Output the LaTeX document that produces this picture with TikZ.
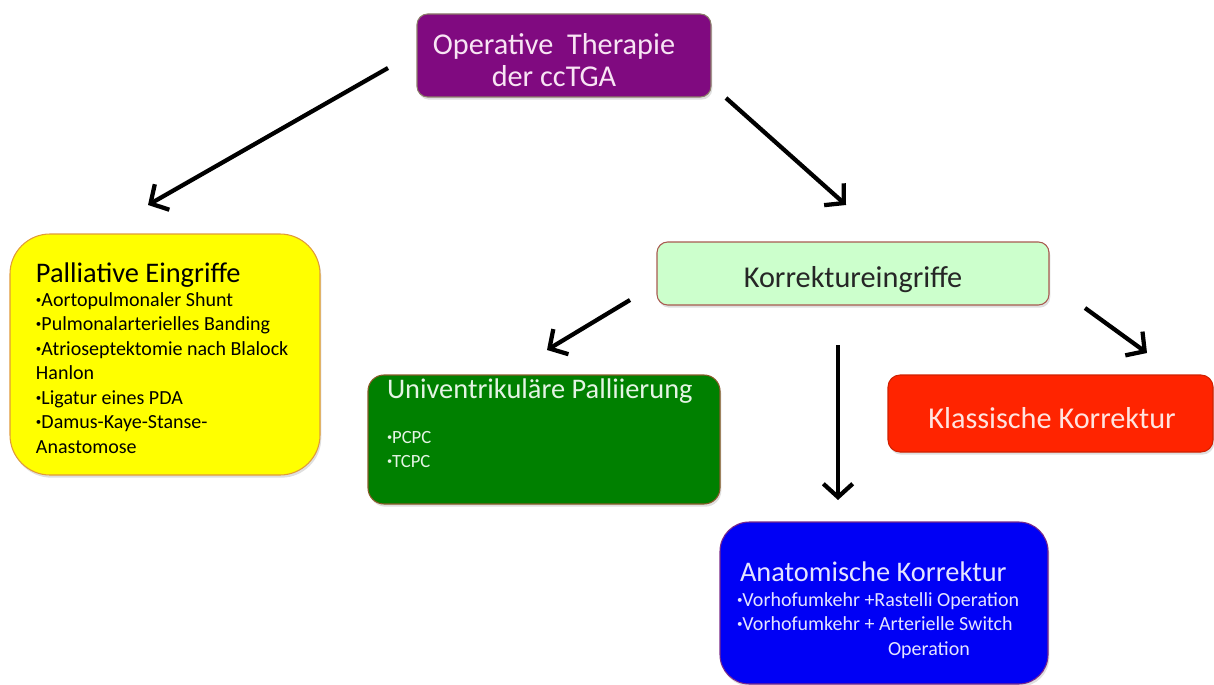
\documentclass[tikz,border=0pt]{standalone}
\usepackage{fontspec}
\usepackage{graphicx}
\setmainfont{Carlito}
\usetikzlibrary{arrows.meta,shadows}
\definecolor{cpurple}{HTML}{800A80}
\definecolor{cpurpleline}{HTML}{8C7C6A}
\definecolor{cyellow}{HTML}{FFFF00}
\definecolor{cyellowline}{HTML}{E09A3A}
\definecolor{clgreen}{HTML}{CCFFCC}
\definecolor{clgreenline}{HTML}{A85A50}
\definecolor{cgreen}{HTML}{008000}
\definecolor{cgreenline}{HTML}{8A5A2A}
\definecolor{cred}{HTML}{FF2400}
\definecolor{credline}{HTML}{D02000}
\definecolor{cblue}{HTML}{0000F5}
\definecolor{cblueline}{HTML}{7A2A8A}
\definecolor{ptext}{HTML}{F8E4F4}
\definecolor{gtext}{HTML}{E4F4E4}
\definecolor{btext}{HTML}{E4E4FF}
\definecolor{rtext}{HTML}{FFE4E0}
\newcommand{\bul}{\raisebox{0.3ex}{\scalebox{0.55}{•}}}
\begin{document}
\begin{tikzpicture}[x=0.75pt,y=-0.75pt,
  boxbase/.style={draw,line width=0.8pt,inner sep=0pt,
    drop shadow={opacity=0.25,shadow xshift=1pt,shadow yshift=-2pt}},
  txt/.style={inner sep=0pt,outer sep=0pt},
  arr/.style={line width=3.2pt,-{Straight Barb[length=10pt,width=22pt,line width=3.2pt]}},
  bigfont/.style={font=\fontsize{21.3}{25}\selectfont},
  hugefont/.style={font=\fontsize{22.7}{23.5}\selectfont},
  itemfont/.style={font=\fontsize{15}{17}\selectfont},
  smallitem/.style={font=\fontsize{14}{16}\selectfont}]
\useasboundingbox (0,0) rectangle (1214,685);
% boxes
\node[boxbase,fill=cpurple,draw=cpurpleline,rounded corners=8pt,
  minimum width=220.5pt,minimum height=62.25pt] (top) at (564,55.5) {};
\node[boxbase,fill=cyellow,draw=cyellowline,rounded corners=30pt,
  minimum width=232.5pt,minimum height=180.75pt] (pall) at (165,354.5) {};
\node[boxbase,fill=clgreen,draw=clgreenline,rounded corners=8pt,
  minimum width=294pt,minimum height=47.25pt] (korr) at (853,273.5) {};
\node[boxbase,fill=cgreen,draw=cgreenline,rounded corners=12pt,
  minimum width=264pt,minimum height=96.75pt] (univ) at (544,439.5) {};
\node[boxbase,fill=cred,draw=credline,rounded corners=9pt,
  minimum width=243.75pt,minimum height=57.75pt] (klass) at (1050.5,413.5) {};
\node[boxbase,fill=cblue,draw=cblueline,rounded corners=22pt,
  minimum width=246pt,minimum height=121.5pt] (anat) at (884,603) {};
% texts
\node[txt,hugefont,text=ptext,align=center] (toptxt) at (554,60)
  {Operative\ \ Therapie\\der ccTGA};
\node[txt,bigfont,anchor=base west] (palltitle) at (36,282) {Palliative Eingriffe};
\node[txt,itemfont,anchor=base west] (p1) at (36,306) {\bul Aortopulmonaler Shunt};
\node[txt,itemfont,anchor=base west] (p2) at (36,330.5) {\bul Pulmonalarterielles Banding};
\node[txt,itemfont,anchor=base west] (p3) at (36,355) {\bul Atrioseptektomie nach Blalock};
\node[txt,itemfont,anchor=base west] (p4) at (36,379.5) {Hanlon};
\node[txt,itemfont,anchor=base west] (p5) at (36,404) {\bul Ligatur eines PDA};
\node[txt,itemfont,anchor=base west] (p6) at (36,428.5) {\bul Damus-Kaye-Stanse-};
\node[txt,itemfont,anchor=base west] (p7) at (36,453) {Anastomose};
\node[txt,hugefont,anchor=center,text=black!85] (korrtxt) at (853,280) {Korrektureingriffe};
\node[txt,bigfont,anchor=base west,text=gtext] (univtitle) at (387,398) {Univentrikuläre Palliierung};
\node[txt,smallitem,anchor=base west,text=gtext] (u1) at (387,443) {\bul PCPC};
\node[txt,smallitem,anchor=base west,text=gtext] (u2) at (387,467) {\bul TCPC};
\node[txt,hugefont,anchor=center,text=rtext] (klasstxt) at (1052,418) {Klassische Korrektur};
\node[txt,bigfont,anchor=base west,text=btext] (anattitle) at (740,581) {Anatomische Korrektur};
\node[txt,itemfont,anchor=base west,text=btext] (a1) at (737,606) {\bul Vorhofumkehr +Rastelli Operation};
\node[txt,itemfont,anchor=base west,text=btext] (a2) at (737,630.5) {\bul Vorhofumkehr + Arterielle Switch};
\node[txt,itemfont,anchor=base west,text=btext] (a3) at (888,655) {Operation};
% arrow ends
\coordinate (s1) at (388,68);   \coordinate (e1) at (148,205);
\coordinate (s2) at (726,98);   \coordinate (e2) at (846,205);
\coordinate (s3) at (630,300);  \coordinate (e3) at (547,350);
\coordinate (s4) at (838,345);  \coordinate (e4) at (838,500);
\coordinate (s5) at (1085,308); \coordinate (e5) at (1147,353);
\draw[arr] (s1) -- (e1);
\draw[arr] (s2) -- (e2);
\draw[arr] (s3) -- (e3);
\draw[arr] (s4) -- (e4);
\draw[arr] (s5) -- (e5);
\end{tikzpicture}
\end{document}
